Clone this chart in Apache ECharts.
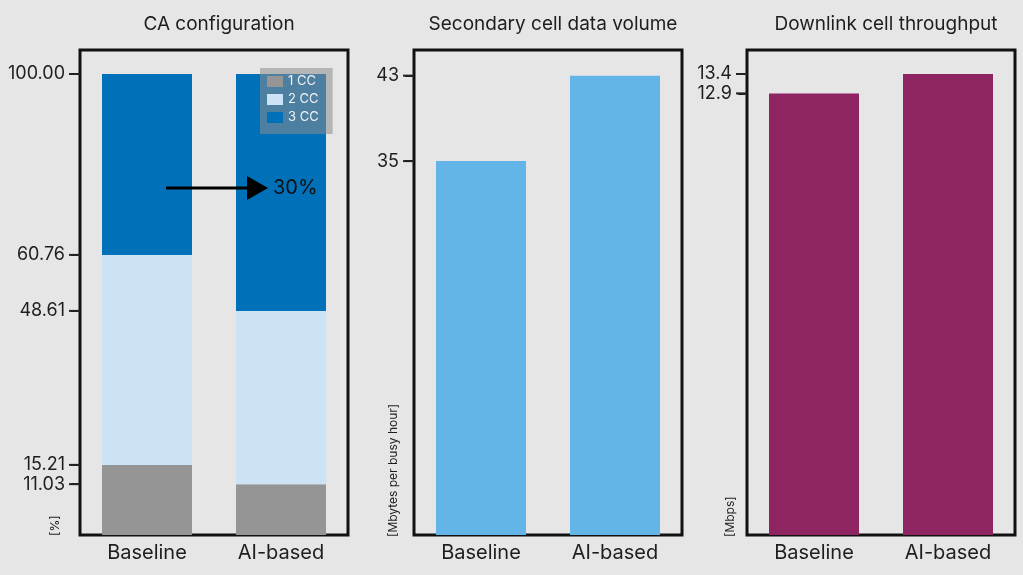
<!DOCTYPE html>
<html lang="en">
<head>
    <meta charset="UTF-8">
    <title>CA configuration</title>
</head>
<style>
    html, body { margin: 0; padding: 0; background: #e6e6e6; }
    #main { width: 1023px; height: 575px; }
</style>
<body>
    <div id="main"></div>
    <script src="https://cdn.jsdelivr.net/npm/echarts@6.0.0/dist/echarts.min.js"></script>
    <script>
        const categories = ['Baseline', 'AI-based']
        // CA configuration shares [%]
        const oneCC = [15.21, 11.03]
        const twoCC = [45.55, 37.58]
        const threeCC = [39.24, 51.39]
        const caTicks = [11.03, 15.21, 48.61, 60.76, 100]
        // secondary cell data volume [Mbytes per busy hour]
        const volume = [35, 43]
        const volumeTicks = [35, 43]
        // downlink cell throughput [Mbps]
        const throughput = [12.9, 13.4]
        const throughputTicks = [12.9, 13.4]

        const font = 'Inter'
        const ink = '#1e1e1e'
        const lefts = [80, 414, 747]
        const panelW = 268

        let chart = echarts.init(document.getElementById('main'))

        const grids = lefts.map(l => ({
            left: l, width: panelW, top: 50, bottom: 40,
            show: true, borderColor: '#111', borderWidth: 3,
            backgroundColor: 'transparent'
        }))

        const xAxes = lefts.map((l, i) => ({
            type: 'category', gridIndex: i, data: categories,
            axisLine: { show: false }, axisTick: { show: false },
            axisLabel: { color: ink, fontSize: 20, fontFamily: font, margin: 8 }
        }))

        function yAxis(i, min, max, ticks, fmt) {
            return {
                type: 'value', gridIndex: i, min, max,
                splitLine: { show: false },
                axisLine: { show: false },
                axisTick: { show: true, customValues: ticks, length: 9, lineStyle: { color: '#222', width: 2 } },
                axisLabel: { customValues: ticks, color: ink, fontSize: 18, fontFamily: font, margin: 15, formatter: fmt }
            }
        }

        // short outside tick marks, drawn through each panel's own scale
        function tickSeries(i, ticks) {
            return {
                type: 'custom', xAxisIndex: i, yAxisIndex: i, clip: false, silent: true, z: 10,
                data: ticks.map(v => [0, v]),
                renderItem: (params, api) => {
                    const p = api.coord([api.value(0), api.value(1)])
                    const x0 = params.coordSys.x
                    return {
                        type: 'rect',
                        shape: { x: x0 - 11, y: p[1] - 1, width: 10, height: 2 },
                        style: { fill: '#222' }
                    }
                }
            }
        }

        const titles = ['CA configuration', 'Secondary cell data volume', 'Downlink cell throughput']

        let option = {
            backgroundColor: '#e6e6e6',
            animation: false,
            title: titles.map((t, i) => ({
                text: t, left: lefts[i] + panelW / 2, top: 10, textAlign: 'center',
                textStyle: { color: ink, fontSize: 19, fontWeight: 'normal', fontFamily: font }
            })),
            legend: {
                data: ['1 CC', '2 CC', '3 CC'],
                orient: 'vertical', left: 260, top: 68,
                padding: [7, 14, 10, 7], itemGap: 5,
                itemWidth: 16, itemHeight: 11, icon: 'rect',
                backgroundColor: 'rgba(140,140,140,0.55)',
                textStyle: { color: '#f2f2f2', fontSize: 13, fontFamily: font }
            },
            grid: grids,
            xAxis: xAxes,
            yAxis: [
                yAxis(0, 0, 105.2, caTicks, v => v.toFixed(2)),
                yAxis(1, 0, 45.4, volumeTicks, v => String(v)),
                yAxis(2, 1.5, 14.02, throughputTicks, v => v.toFixed(1))
            ],
            series: [
                { name: '1 CC', type: 'bar', stack: 'ca', data: oneCC, barWidth: 90, itemStyle: { color: '#959595' } },
                { name: '2 CC', type: 'bar', stack: 'ca', data: twoCC, barWidth: 90, itemStyle: { color: '#cce3f6' } },
                { name: '3 CC', type: 'bar', stack: 'ca', data: threeCC, barWidth: 90, itemStyle: { color: '#0070b8' } },
                { name: 'volume', type: 'bar', xAxisIndex: 1, yAxisIndex: 1, data: volume, barWidth: 90, itemStyle: { color: '#63b5e8' } },
                { name: 'throughput', type: 'bar', xAxisIndex: 2, yAxisIndex: 2, data: throughput, barWidth: 90, itemStyle: { color: '#8e2562' } },
                tickSeries(0, caTicks),
                tickSeries(1, volumeTicks),
                tickSeries(2, throughputTicks)
            ],
            graphic: [
                // arrow + label in CA panel
                { type: 'line', shape: { x1: 166, y1: 188, x2: 250, y2: 188 }, style: { stroke: '#000', lineWidth: 3 }, z: 20 },
                { type: 'polygon', shape: { points: [[247, 176], [268, 188], [247, 200]] }, style: { fill: '#000' }, z: 20 },
                { type: 'text', x: 273, y: 188, style: { text: '30%', font: '20px Inter', fill: '#111', verticalAlign: 'middle' }, z: 20 },
                // rotated unit labels
                { type: 'text', x: 55, y: 536, rotation: Math.PI / 2, style: { text: '[%]', font: '12px Inter', fill: ink, verticalAlign: 'middle', align: 'left' } },
                { type: 'text', x: 393, y: 537, rotation: Math.PI / 2, style: { text: '[Mbytes per busy hour]', font: '12px Inter', fill: ink, verticalAlign: 'middle', align: 'left' } },
                { type: 'text', x: 730, y: 537, rotation: Math.PI / 2, style: { text: '[Mbps]', font: '12px Inter', fill: ink, verticalAlign: 'middle', align: 'left' } }
            ]
        }
        chart.setOption(option)
    </script>
</body>
</html>
